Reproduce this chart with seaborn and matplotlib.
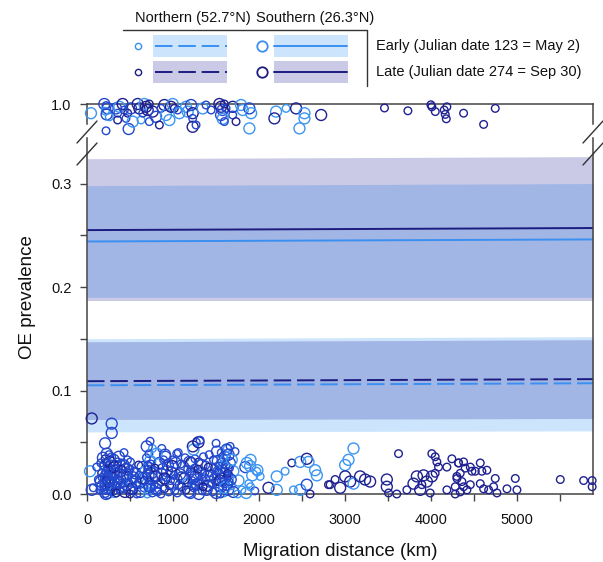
import numpy as np
import pandas as pd
import matplotlib
matplotlib.use("Agg")
import matplotlib.pyplot as plt
from matplotlib.colors import LinearSegmentedColormap
from matplotlib.patches import Rectangle
import seaborn as sns

# fitted lines / 95% bands (x = migration distance)
fit_x = [0, 5880]
south_early = [0.244, 0.246]
south_late = [0.255, 0.257]
north_early = [0.105, 0.107]
north_late = [0.109, 0.111]
south_early_lo, south_early_hi = [0.190, 0.190], [0.298, 0.300]
south_late_lo, south_late_hi = [0.187, 0.187], [0.324, 0.326]
north_early_lo, north_early_hi = [0.060, 0.061], [0.150, 0.152]
north_late_lo, north_late_hi = [0.072, 0.073], [0.147, 0.149]

# observations near prevalence 1 (upper panel)
top_km = [46, 201, 221, 240, 213, 228, 259, 221, 337, 356,
          356, 376, 414, 434, 453, 473, 484, 511, 531, 589,
          608, 628, 647, 666, 686, 705, 724, 724, 763, 802,
          841, 860, 899, 918, 957, 976, 996, 1015, 1054, 1073,
          1151, 1170, 1209, 1228, 1228, 1228, 1267, 1345, 1383, 1442,
          1538, 1558, 1577, 1558, 1577, 1596, 1616, 1596, 1693, 1693,
          1732, 1790, 1810, 1887, 1907, 1887, 2197, 2178, 2313, 2430,
          2527, 2527, 2469, 2721,
          3457, 3729, 3996, 4008, 4047, 4151, 4163, 4182, 4175, 4376, 4609, 4744]
top_prev = [0.977, 1.0, 0.996, 0.989, 0.982, 0.974, 0.968, 0.933, 0.989, 0.977,
            0.960, 0.993, 1.0, 0.985, 0.964, 0.977, 0.9375, 0.989, 0.956, 1.0,
            0.989, 0.960, 0.977, 1.0, 0.993, 0.985, 1.0, 0.956, 0.981, 0.968,
            0.9475, 0.989, 0.9975, 0.9725, 0.960, 0.993, 1.0, 0.989, 0.985, 0.977,
            0.993, 0.981, 0.9975, 0.977, 0.964, 0.943, 0.9475, 0.989, 0.9975, 0.985,
            1.0, 0.993, 0.985, 0.9725, 0.963, 0.956, 0.989, 1.0, 0.993, 0.9725,
            0.956, 0.9975, 0.985, 0.989, 0.977, 0.939, 0.981, 0.964, 0.989, 0.989,
            0.977, 0.964, 0.939, 0.9725,
            0.990, 0.983, 0.998, 0.993, 0.981, 0.985, 0.974, 0.993, 0.963, 0.977, 0.949, 0.989]
top_day = ("emmmememmm" "lelmmlmmel" "lemelllmlm" "lmleelelme" "eemlmlmemm"
           "llmmemmllm" "leemeeelel" "eeel" "llllllllllll")
top_site = ("ssnsnsnnsn" "nssnnnssss" "snnsssnnss" "nnsssssnns" "ssssnsnsnn"
            "sssssnnnsn" "nsssssssns" "ssss" "nnnnnnnnnnnn")

# dense cloud near zero, 150-2000 km
cloud_km = [150, 160, 170, 180, 190, 200, 205, 210, 215, 220,
            225, 230, 235, 240, 245, 250, 255, 260, 265, 270,
            275, 280, 290, 300, 310, 320, 330, 340, 350, 360,
            370, 380, 390, 400, 410, 420, 430, 440, 450, 460,
            470, 480, 490, 500, 520, 540, 560, 580, 600, 620,
            640, 660, 680, 690, 700, 705, 710, 715, 720, 725,
            730, 735, 740, 750, 760, 780, 800, 820, 840, 860,
            880, 900, 910, 920, 940, 960, 980, 1000, 1020, 1040,
            1060, 1080, 1100, 1120, 1140, 1160, 1180, 1200, 1210, 1220,
            1230, 1240, 1250, 1260, 1270, 1280, 1300, 1320, 1340, 1360,
            1380, 1400, 1420, 1440, 1460, 1480, 1510, 1510, 1520, 1540,
            1550, 1560, 1570, 1580, 1590, 1600, 1610, 1620, 1630, 1640,
            1650, 1660, 1680, 1700, 1720, 1760, 1800, 1840, 1880, 1900,
            1920, 1950, 1980]
cloud_prev = [0.004, 0.012, 0.020, 0.008, 0.027, 0.015, 0.002, 0.034, 0.010, 0.022,
              0.005, 0.030, 0.017, 0.001, 0.025, 0.012, 0.038, 0.007, 0.020, 0.029,
              0.003, 0.015, 0.024, 0.010, 0.033, 0.002, 0.019, 0.027, 0.008, 0.014,
              0.036, 0.004, 0.022, 0.030, 0.011, 0.017, 0.040, 0.002, 0.026, 0.009,
              0.033, 0.018, 0.005, 0.024, 0.013, 0.003, 0.020, 0.009, 0.028, 0.002,
              0.015, 0.006, 0.022, 0.035, 0.010, 0.028, 0.003, 0.018, 0.039, 0.025,
              0.013, 0.032, 0.006, 0.020, 0.044, 0.009, 0.017, 0.002, 0.030, 0.012,
              0.024, 0.005, 0.036, 0.016, 0.028, 0.008, 0.021, 0.033, 0.003, 0.014,
              0.040, 0.019, 0.007, 0.026, 0.035, 0.011, 0.002, 0.022, 0.030, 0.013,
              0.046, 0.006, 0.025, 0.017, 0.050, 0.009, 0.031, 0.020, 0.003, 0.014,
              0.028, 0.008, 0.038, 0.018, 0.002, 0.025, 0.041, 0.012, 0.032, 0.006,
              0.021, 0.040, 0.015, 0.028, 0.001, 0.036, 0.010, 0.024, 0.044, 0.004,
              0.018, 0.030, 0.008, 0.022, 0.041, 0.013, 0.004, 0.026, 0.010, 0.033,
              0.018, 0.003, 0.023]
cloud_day = ("mmlmemmlmm" "mlmmmmmlmm" "lmmmmemmlm" "mmlmmmmlmm" "mlmmemmmlm"
             "mmemememmm" "memmemlmmm" "mlmmmlmmmm" "mmlmmemmlm" "lmmmmmlmmm"
             "mlmmmmmlmm" "mmmeemmmem" "mmeemeemee" "eme")
cloud_site = ("nsnsnnsnsn" "snnsnsnnsn" "nsnnssnsnn" "snsnnsnsns" "nnsnsnsnns"
              "snsnsnnsns" "nsnsnnsnsn" "snsnsnsnns" "nsnsnnsnsn" "snnsnsnsns"
              "nsnsnnsnsn" "snsnnsnsns" "nsnsnsnsns" "sns")

# second layer of the dense cloud
cloud2_km = [205, 215, 225, 235, 245, 255, 265, 275, 285, 295,
             305, 315, 325, 345, 355, 375, 395, 405, 425, 445,
             465, 485, 505, 525, 545, 565, 605, 645, 665, 695,
             712, 722, 742, 755, 790, 830, 870, 890, 930, 970,
             990, 1010, 1030, 1070, 1090, 1130, 1170, 1190, 1215, 1235,
             1255, 1275, 1290, 1310, 1330, 1370, 1390, 1410, 1430, 1470,
             1490, 1505, 1525, 1535, 1545, 1565, 1575, 1585, 1595, 1605,
             1615, 1625, 1635, 1645, 1655, 1670, 160, 175, 185, 195]
cloud2_prev = [0.019, 0.028, 0.013, 0.024, 0.006, 0.018, 0.031, 0.011, 0.036, 0.004,
               0.017, 0.026, 0.009, 0.020, 0.031, 0.013, 0.006, 0.024, 0.028, 0.015,
               0.024, 0.011, 0.031, 0.005, 0.022, 0.012, 0.018, 0.026, 0.013, 0.020,
               0.024, 0.008, 0.029, 0.015, 0.025, 0.010, 0.019, 0.033, 0.022, 0.013,
               0.027, 0.018, 0.030, 0.009, 0.029, 0.015, 0.024, 0.031, 0.008, 0.019,
               0.034, 0.014, 0.024, 0.010, 0.028, 0.021, 0.004, 0.026, 0.012, 0.033,
               0.015, 0.022, 0.019, 0.027, 0.013, 0.031, 0.006, 0.020, 0.034, 0.016,
               0.028, 0.009, 0.020, 0.038, 0.025, 0.014, 0.030, 0.016, 0.035, 0.007]
cloud2_day = ("mmlmmmlmmm" "mlmmmmmlmm" "mmmlmmmmlm" "mmmmlmmmmm"
              "lmmmmlmmmm" "mmlmmmmlmm" "mmmmlmmmem" "mmlmmmmmmm")
cloud2_site = ("nsnnsnsnns" "nsnsnnsnsn" "snnsnsnsnn" "nsnsnnsnsn"
               "snsnnsnsns" "nsnnsnsnsn" "snsnsnnsns" "nsnsnsnnsn")

# points sitting on zero
floor_km = [220, 260, 300, 340, 380, 420, 460, 500, 540, 580,
            620, 700, 730, 760, 800, 860, 900, 950, 1000, 1050,
            1100, 1150, 1200, 1250, 1300, 1350, 1400, 1450, 1500, 1550,
            1600, 1650, 1700, 1750, 1850, 1900]
floor_prev = [0.000, 0.013, 0.021, 0.001, 0.011, 0.006, 0.019, 0.000, 0.016, 0.000,
              0.011, 0.000, 0.007, 0.001, 0.005, 0.000, 0.015, 0.002, 0.010, 0.001,
              0.016, 0.004, 0.001, 0.009, 0.000, 0.007, 0.017, 0.010, 0.001, 0.000,
              0.006, 0.012, 0.002, 0.000, 0.001, 0.007]
floor_day = "mmmlmmmlmm" "memmmmlmmm" "mlmmmlmmmm" "emmeee"
floor_site = "snsnsnsnsn" "snsnsnsnsn" "snsnsnsnsn" "snsnsn"

# scattered points
sparse_km = [55, 287, 287, 210, 229, 35, 113, 132, 74, 55,
             733, 694, 869, 810, 907, 1043, 1237, 1295, 1314, 1353,
             1500, 1624, 1663, 1682, 1857, 1895, 1973, 2012, 2109, 2205,
             2205, 2302, 2380, 2477, 2554, 2574, 2651, 2671, 2399, 2477,
             2554, 2593, 2806,
             3097, 3039, 3000, 2883, 2825, 2942, 3000, 3058, 3097,
             3174, 3232, 3290, 3484, 3484, 3504, 3600, 3620, 3717, 3794,
             3833, 3872, 3891, 3949, 3911, 3988, 4007, 4046, 4066, 4085,
             4046, 4007, 4182, 4240, 4182, 4279, 4298, 4317,
             4318, 4376, 4395, 4454, 4473, 4337, 4299, 4279, 4357, 4376,
             4415, 4337, 4454, 4512, 4570, 4589, 4647, 4570, 4609, 4667,
             4725, 4744, 4764, 4880, 4977, 4996, 5500, 5771, 5870, 5870]
sparse_prev = [0.073, 0.068, 0.059, 0.049, 0.039, 0.022, 0.026, 0.014, 0.006, 0.004,
               0.051, 0.046, 0.044, 0.039, 0.038, 0.039, 0.043, 0.050, 0.052, 0.036,
               0.049, 0.043, 0.046, 0.033, 0.030, 0.027, 0.022, 0.017, 0.006, 0.017,
               0.004, 0.022, 0.030, 0.031, 0.034, 0.031, 0.023, 0.018, 0.004, 0.004,
               0.009, 0.000, 0.009,
               0.044, 0.033, 0.028, 0.014, 0.009, 0.006, 0.017, 0.012, 0.010,
               0.017, 0.014, 0.012, 0.014, 0.007, 0.001, 0.000, 0.039, 0.004, 0.010,
               0.017, 0.004, 0.009, 0.012, 0.018, 0.001, 0.039, 0.036, 0.031, 0.026,
               0.020, 0.017, 0.026, 0.034, 0.004, 0.000, 0.017, 0.030,
               0.030, 0.031, 0.025, 0.026, 0.022, 0.020, 0.015, 0.007, 0.012, 0.007,
               0.004, 0.002, 0.009, 0.022, 0.030, 0.022, 0.023, 0.010, 0.005, 0.004,
               0.007, 0.015, 0.001, 0.005, 0.015, 0.004, 0.014, 0.013, 0.013, 0.007]
sparse_day = ("lmmmmemmmm" "mmmemmelmm" "mmmeeeeele" "eeleleeeee" "mll"
              "eeellllle" + "l" * 58)
sparse_site = ("ssssssnnns" "nsnssnssnn" "nsnsssnnss" "snnsssssns" "snn"
               "sssnnssss" "sssssnnnnsssnssnnnnnnsnnnnnn" + "n" * 30)

day_code = {"e": 130, "m": 195, "l": 262}

def make_df(km, prev, day, site):
    return pd.DataFrame({"km": km, "prev": prev,
                         "day": [day_code[c] for c in day], "site": list(site)})

top_df = make_df(top_km, top_prev, top_day, top_site)
low_df = pd.concat([make_df(cloud_km, cloud_prev, cloud_day, cloud_site),
                    make_df(cloud2_km, cloud2_prev, cloud2_day, cloud2_site),
                    make_df(floor_km, floor_prev, floor_day, floor_site),
                    make_df(sparse_km, sparse_prev, sparse_day, sparse_site)])

early_col = "#3a8ff0"
late_col = "#1c1c80"
early_band = "#cce5fd"
late_band = "#cacae6"
both_band = "#a2b6e6"
spine_col = "#444444"
jd_cmap = LinearSegmentedColormap.from_list("jd", ["#3d9df5", "#2244cc", "#1e1b86"])

sns.set_theme(style="white")
plt.rcParams["font.family"] = ["Liberation Sans", "DejaVu Sans"]

W, H = 603, 562
fig = plt.figure(figsize=(W / 100, H / 100), dpi=100)
ax_lo = fig.add_axes([87 / W, 1 - 494 / H, 506 / W, 356 / H])
ax_hi = fig.add_axes([87 / W, 1 - 124 / H, 506 / W, 20 / H])

# bands
for lo1, hi1, lo2, hi2 in [(south_early_lo, south_early_hi, south_late_lo, south_late_hi),
                           (north_early_lo, north_early_hi, north_late_lo, north_late_hi)]:
    ax_lo.fill_between(fit_x, lo1, hi1, color=early_band, lw=0, zorder=1)
    ax_lo.fill_between(fit_x, lo2, hi2, color=late_band, lw=0, zorder=1)
    ax_lo.fill_between(fit_x, np.maximum(lo1, lo2), np.minimum(hi1, hi2),
                       color=both_band, lw=0, zorder=1)

for yv, col, dashed in [(south_late, late_col, False), (south_early, early_col, False),
                        (north_late, late_col, True), (north_early, early_col, True)]:
    sns.lineplot(x=fit_x, y=yv, ax=ax_lo, color=col, lw=1.4, zorder=2)
    if dashed:
        ax_lo.lines[-1].set_dashes((9, 3))


def draw_points(ax, df):
    sns.scatterplot(data=df, x="km", y="prev", hue="day", hue_norm=(123, 274),
                    palette=jd_cmap, size="site", sizes={"n": 30, "s": 62},
                    legend=False, ax=ax, linewidth=1.0, clip_on=False, zorder=3)
    pts = ax.collections[-1]
    fc = pts.get_facecolors()
    pts.set_edgecolors(fc)
    pts.set_facecolors("none")


draw_points(ax_lo, low_df)
draw_points(ax_hi, top_df)

for ax in (ax_lo, ax_hi):
    ax.set_xlim(0, 5880)
    ax.set_xlabel("")
    ax.set_ylabel("")
    for s in ax.spines.values():
        s.set_color(spine_col)
        s.set_linewidth(1.1)
    ax.tick_params(axis="both", which="both", direction="out", length=5,
                   width=1, color=spine_col, labelsize=10.5, labelcolor="#111111")

ax_lo.set_ylim(0, 0.344)
ax_lo.spines["top"].set_visible(False)
ax_lo.set_yticks([0, 0.1, 0.2, 0.3])
ax_lo.set_yticklabels(["0.0", "0.1", "0.2", "0.3"])
ax_lo.set_yticks([0.05, 0.15, 0.25], minor=True)
ax_lo.set_xticks([0, 1000, 2000, 3000, 4000, 5000])
ax_lo.set_xticks([500, 1500, 2500, 3500, 4500, 5500], minor=True)
ax_lo.tick_params(axis="y", which="both", left=True, pad=6)
ax_lo.tick_params(axis="x", which="both", bottom=True, pad=9)

ax_hi.set_ylim(0.95, 1.0)
ax_hi.spines["bottom"].set_visible(False)
ax_hi.set_xticks([])
ax_hi.set_yticks([1.0])
ax_hi.set_yticklabels(["1.0"])
ax_hi.tick_params(axis="y", left=True, pad=6)

fig.text(27 / W, 1 - 297 / H, "OE prevalence", rotation=90, ha="center",
         va="center", fontsize=13.5, color="#111111")
fig.text(340 / W, 1 - 551 / H, "Migration distance (km)", ha="center",
         va="center", fontsize=13.5, color="#111111")

# overlay in pixel coordinates: axis-break marks and the legend
ov = fig.add_axes([0, 0, 1, 1])
ov.set_xlim(0, W)
ov.set_ylim(H, 0)
ov.axis("off")
ov.patch.set_alpha(0)
for x0 in (77, 583):
    for y0 in (143, 165):
        ov.plot([x0, x0 + 20], [y0, y0 - 22], color="#333333", lw=1)

ov.text(135, 18, "Northern (52.7\u00b0N)", fontsize=10.5, va="center", color="#111111")
ov.text(256, 18, "Southern (26.3\u00b0N)", fontsize=10.5, va="center", color="#111111")
ov.plot([123, 367], [30, 30], color="#333333", lw=1)
ov.plot([367, 367], [30, 86], color="#333333", lw=1)
for y0, band, col, label in [(35, early_band, early_col, "Early (Julian date 123 = May 2)"),
                             (61, late_band, late_col, "Late (Julian date 274 = Sep 30)")]:
    yc = y0 + 11
    for x0 in (153, 274):
        ov.add_patch(Rectangle((x0, y0), 74, 22, color=band, lw=0))
    ln, = ov.plot([155, 227], [yc, yc], color=col, lw=1.4)
    ln.set_dashes((9, 3))
    ov.plot([274, 347], [yc, yc], color=col, lw=1.4)
    ov.plot([138], [yc], marker="o", ms=4.5, mfc="none", mec=col, mew=1.0)
    ov.plot([262], [yc], marker="o", ms=7.5, mfc="none", mec=col, mew=1.3)
    ov.text(376, yc, label, fontsize=10.5, va="center", color="#111111")

fig.savefig("out.png", dpi=100)
